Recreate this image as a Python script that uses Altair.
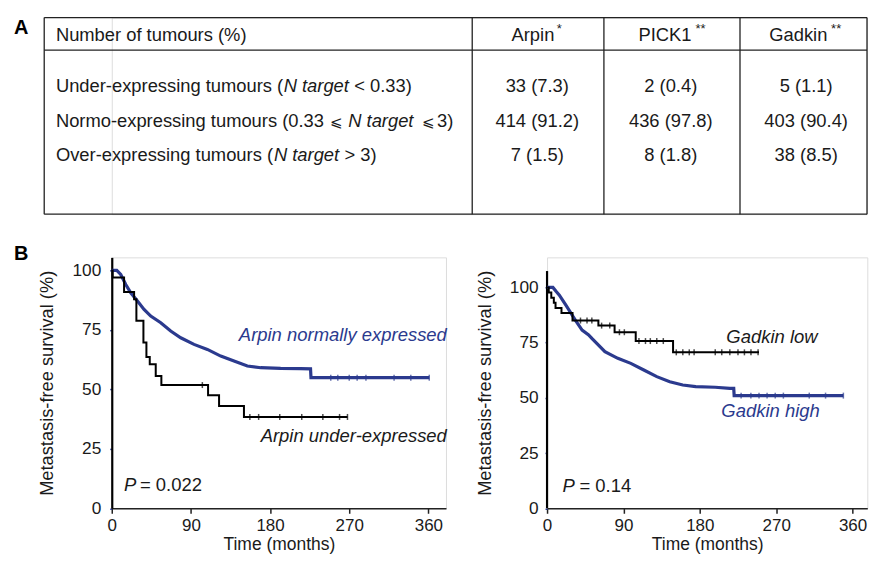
import altair as alt
import pandas as pd

NAVY = "#2b3a8e"
INK = "#1a1a1a"
FONT = "Liberation Sans"

# ---------------- Panel A: table values ----------------
genes = ["Arpin", "PICK1", "Gadkin"]
gene_flags = ["*", "**", "**"]
under_cells = ["33 (7.3)", "2 (0.4)", "5 (1.1)"]
normo_cells = ["414 (91.2)", "436 (97.8)", "403 (90.4)"]
over_cells = ["7 (1.5)", "8 (1.8)", "38 (8.5)"]
header_text = "Number of tumours (%)"
under_parts = ["Under-expressing tumours (", "N target", "< 0.33)"]
normo_parts = ["Normo-expressing tumours (0.33", "⩽", "N target", "⩽", "3)"]
over_parts = ["Over-expressing tumours (", "N target", "> 3)"]
# style of each part: p = plain, i = italic, s = symbol
under_style = ["p", "i", "p"]
normo_style = ["p", "s", "i", "s", "p"]
over_style = ["p", "i", "p"]

# ---------------- Panel B: Kaplan-Meier values (months, % free) ----------------
arpin_under_t = [0, 1, 14, 25.4, 28, 36, 39.4, 43.2, 50, 56.4, 109.5, 122, 150.3, 268]
arpin_under_s = [100, 97.0, 90.9, 87.9, 78.8, 69.7, 63.6, 60.6, 55.6, 51.8, 47.5, 43.0, 38.4, 38.4]
arpin_under_cens_t = [103, 157, 167, 191, 216, 240, 259, 268]
arpin_under_cens_s = [51.8, 38.4, 38.4, 38.4, 38.4, 38.4, 38.4, 38.4]

arpin_normal_t = [0, 5.7, 10.2, 15.9, 21.6, 29.2, 36.7, 44.3, 55.7, 67, 78.4, 93.5, 108.7,
                  123.9, 139, 154.2, 169.3, 192, 214.8, 226, 226.5, 361]
arpin_normal_s = [100, 100, 98.3, 94.1, 90.6, 87.1, 83.6, 80.8, 78.0, 74.5, 71.7, 68.9, 66.8,
                  64.0, 61.9, 59.8, 59.1, 58.8, 58.7, 58.6, 54.9, 54.9]
arpin_normal_cens_t = [249, 257, 270, 279, 289, 321, 340, 361]
arpin_normal_cens_s = [54.9] * 8

gadkin_low_t = [0, 2, 5, 8, 10, 17, 30, 60.5, 79.6, 104.5, 148.5, 249.8]
gadkin_low_s = [100, 97.7, 95.3, 93.0, 90.7, 88.4, 85.0, 82.7, 79.7, 75.7, 70.6, 70.6]
gadkin_low_cens_t = [39.4, 47.1, 52.8, 64.3, 73.9, 85.3, 91.1, 108.3, 116, 121.7, 129.3, 137,
                     152.3, 160, 167.6, 173.3, 198.2, 205.9, 215.4, 225, 232.6, 240.3, 248.7]
gadkin_low_cens_s = [85.0, 85.0, 85.0, 82.7, 82.7, 79.7, 79.7, 75.7, 75.7, 75.7, 75.7, 75.7,
                     70.6, 70.6, 70.6, 70.6, 70.6, 70.6, 70.6, 70.6, 70.6, 70.6, 70.6]

gadkin_high_t = [0, 6.9, 10.8, 14.5, 22.2, 33.7, 41.3, 49, 52.8, 68.2, 83.4, 98.7, 114, 129.3,
                 144.6, 159.9, 175.2, 198.1, 215.4, 220, 220.5, 349.2]
gadkin_high_s = [100, 100, 98.1, 96.5, 92.0, 85.0, 80.7, 78.5, 76.9, 70.9, 67.9, 65.6, 62.6, 59.6,
                 57.3, 55.8, 55.1, 54.8, 54.3, 54.3, 51.0, 51.0]
gadkin_high_cens_t = [228.7, 240.2, 249.8, 259.3, 268.9, 278.5, 309, 328.2, 349.2]
gadkin_high_cens_s = [51.0] * 9

# ---------------- layout (pixels) ----------------
TAB_W, TAB_H = 757, 197          # table plot area (x measured from survival plot left edge)
TAB_X0 = -67.7                   # table left border
TAB_HEAD = 32.6
col_edges = [361.3, 493.3, 629.7]
col_centers = [426.5, 560.3, 696]
gene_x = [400.7, 528, 659]
flag_x = [446, 585, 721]
head_base, flag_base = 23.6, 15.8
row_base = [75, 109.3, 143.6]
under_x = [-56, 172.3, 243]
normo_x = [-56, 219, 237, 311, 326]
over_x = [-56, 162.5, 233.2]

# ---------------- Panel A ----------------
rows = {"p": [], "i": [], "s": []}
rows["p"].append({"x": -56, "y": head_base, "text": header_text})
for g, x in zip(genes, gene_x):
    rows["p"].append({"x": x, "y": head_base, "text": g})
for parts, styles, xs, yb in [
        (under_parts, under_style, under_x, row_base[0]),
        (normo_parts, normo_style, normo_x, row_base[1]),
        (over_parts, over_style, over_x, row_base[2])]:
    for p, st, x in zip(parts, styles, xs):
        rows[st].append({"x": x, "y": yb, "text": p})
cell_rows = []
for cells, yb in zip([under_cells, normo_cells, over_cells], row_base):
    for c, x in zip(cells, col_centers):
        cell_rows.append({"x": x, "y": yb, "text": c})
flag_rows = [{"x": x, "y": flag_base, "text": f} for f, x in zip(gene_flags, flag_x)]
line_rows = [
    {"x": TAB_X0, "x2": TAB_W, "y": 0, "y2": 0},
    {"x": TAB_X0, "x2": TAB_W, "y": TAB_H, "y2": TAB_H},
    {"x": TAB_X0, "x2": TAB_W, "y": TAB_HEAD, "y2": TAB_HEAD},
    {"x": TAB_X0, "x2": TAB_X0, "y": 0, "y2": TAB_H},
    {"x": TAB_W, "x2": TAB_W, "y": 0, "y2": TAB_H},
] + [{"x": e, "x2": e, "y": 0, "y2": TAB_H} for e in col_edges]

tx = alt.Scale(domain=[0, TAB_W], nice=False, zero=False)
ty = alt.Scale(domain=[TAB_H, 0], nice=False, zero=False)
TX = alt.X("x:Q", scale=tx, axis=None)
TY = alt.Y("y:Q", scale=ty, axis=None)


def tab_text(data, **kw):
    return alt.Chart(pd.DataFrame(data)).mark_text(
        baseline="alphabetic", font=FONT, color=INK, **kw).encode(x=TX, y=TY, text="text:N")


tab_lines = alt.Chart(pd.DataFrame(line_rows)).mark_rule(color="#222", strokeWidth=1.3).encode(
    x=TX, x2="x2:Q", y=TY, y2="y2:Q")
tab_layers = [
    tab_lines,
    tab_text(rows["p"], align="left", fontSize=18.4),
    tab_text(rows["i"], align="left", fontSize=18.4, fontStyle="italic"),
    tab_text(rows["s"], align="left", fontSize=15.5),
    tab_text(cell_rows, align="center", fontSize=18.4),
    tab_text(flag_rows, align="left", fontSize=13),
    alt.Chart(pd.DataFrame({"text": ["A"]})).mark_text(
        align="left", baseline="alphabetic", font=FONT, fontSize=20, fontWeight="bold",
        color="black").encode(x=alt.value(-98), y=alt.value(16), text="text:N"),
]
table = alt.layer(*tab_layers).properties(width=TAB_W, height=TAB_H)


# ---------------- Panel B ----------------
def km_panel(width, height, xmax, ymax, curves, cens, labels, pval, lab_pad, title_pad,
             axis_line=None, letter=False):
    xs = alt.Scale(domain=[0, xmax], nice=False, zero=False)
    ys = alt.Scale(domain=[0, ymax], nice=False, zero=False)
    X = alt.X("t:Q", scale=xs, axis=alt.Axis(
        values=[0, 90, 180, 270, 360], title="Time (months)", grid=False, labelFlush=False,
        labelOverlap=False, domainColor="#222", domainWidth=1.6, tickColor="#222", tickSize=5,
        tickWidth=1.5, labelPadding=4, labelFont=FONT, labelFontSize=17, labelColor=INK,
        titleFont=FONT, titleFontSize=17.5, titleFontWeight="normal", titleColor=INK,
        titlePadding=2.2))
    Y = alt.Y("s:Q", scale=ys, axis=alt.Axis(
        values=[0, 25, 50, 75, 100], title="Metastasis-free survival (%)", grid=False,
        domain=axis_line is None, domainColor="black", domainWidth=2.2, tickColor=NAVY, tickSize=2,
        tickWidth=1.5, labelPadding=lab_pad, labelFont=FONT, labelFontSize=17.3, labelColor=INK,
        titleFont=FONT, titleFontSize=18.3, titleFontWeight="normal", titleColor=INK,
        titlePadding=title_pad))
    layers = []
    if axis_line is not None:
        layers.append(alt.Chart(pd.DataFrame({"t": [0], "s": [0], "s2": [axis_line]})).mark_rule(
            color="black", strokeWidth=2.2).encode(x=X, y=Y, y2="s2:Q"))
    for t, s, color, width_, interp in curves:
        layers.append(alt.Chart(pd.DataFrame({"t": t, "s": s})).mark_line(
            color=color, strokeWidth=width_, interpolate=interp).encode(x=X, y=Y))
    for t, s, color in cens:
        layers.append(alt.Chart(pd.DataFrame({"t": t, "s": s})).mark_tick(
            color=color, orient="vertical", size=6, thickness=1.5).encode(x=X, y=Y))
    for text, t, s, color, align in labels:
        layers.append(alt.Chart(pd.DataFrame({"t": [t], "s": [s], "label": [text]})).mark_text(
            align=align, baseline="alphabetic", font=FONT, fontSize=18.5, fontStyle="italic",
            color=color).encode(x=X, y=Y, text="label:N"))
    (p_t, eq_text, eq_t, p_s) = pval
    layers.append(alt.Chart(pd.DataFrame({"t": [p_t], "s": [p_s], "label": ["P"]})).mark_text(
        align="left", baseline="alphabetic", font=FONT, fontSize=18.5, fontStyle="italic",
        color=INK).encode(x=X, y=Y, text="label:N"))
    layers.append(alt.Chart(pd.DataFrame({"t": [eq_t], "s": [p_s], "label": [eq_text]})).mark_text(
        align="left", baseline="alphabetic", font=FONT, fontSize=18.5, color=INK).encode(
        x=X, y=Y, text="label:N"))
    if letter:
        layers.append(alt.Chart(pd.DataFrame({"label": ["B"]})).mark_text(
            align="left", baseline="alphabetic", font=FONT, fontSize=20, fontWeight="bold",
            color="black").encode(x=alt.value(-98), y=alt.value(2.3), text="label:N"))
    return alt.layer(*layers).properties(width=width, height=height)


left = km_panel(
    335, 251.5, 380, 105.5,
    curves=[(arpin_normal_t, arpin_normal_s, NAVY, 3.2, "linear"),
            (arpin_under_t, arpin_under_s, "black", 2, "step-after")],
    cens=[(arpin_normal_cens_t, arpin_normal_cens_s, NAVY),
          (arpin_under_cens_t, arpin_under_cens_s, "black")],
    labels=[("Arpin normally expressed", 381, 70.3, NAVY, "right"),
            ("Arpin under-expressed", 381, 27.9, INK, "right")],
    pval=(14.0, "= 0.022", 32.0, 7.1),
    lab_pad=9, title_pad=16, letter=True)

right = km_panel(
    321, 251.5, 377.4, 113.6,
    curves=[(gadkin_high_t, gadkin_high_s, NAVY, 3.2, "linear"),
            (gadkin_low_t, gadkin_low_s, "black", 2, "step-after")],
    cens=[(gadkin_high_cens_t, gadkin_high_cens_s, NAVY),
          (gadkin_low_cens_t, gadkin_low_cens_s, "black")],
    labels=[("Gadkin low", 211.3, 75.0, INK, "left"),
            ("Gadkin high", 205.4, 41.1, NAVY, "left")],
    pval=(18.1, "= 0.14", 38.1, 7.2),
    lab_pad=7, title_pad=14.5, axis_line=107.4)

bottom = alt.hconcat(left, right, spacing=101.3, bounds="flush")
chart = alt.vconcat(table, bottom, spacing=43.3, bounds="flush").properties(
    padding={"left": 5, "top": 7, "right": 0, "bottom": 0}
).configure_view(stroke=None).configure(font=FONT)

chart.save("out.html", embed_options={"renderer": "svg", "actions": False})
